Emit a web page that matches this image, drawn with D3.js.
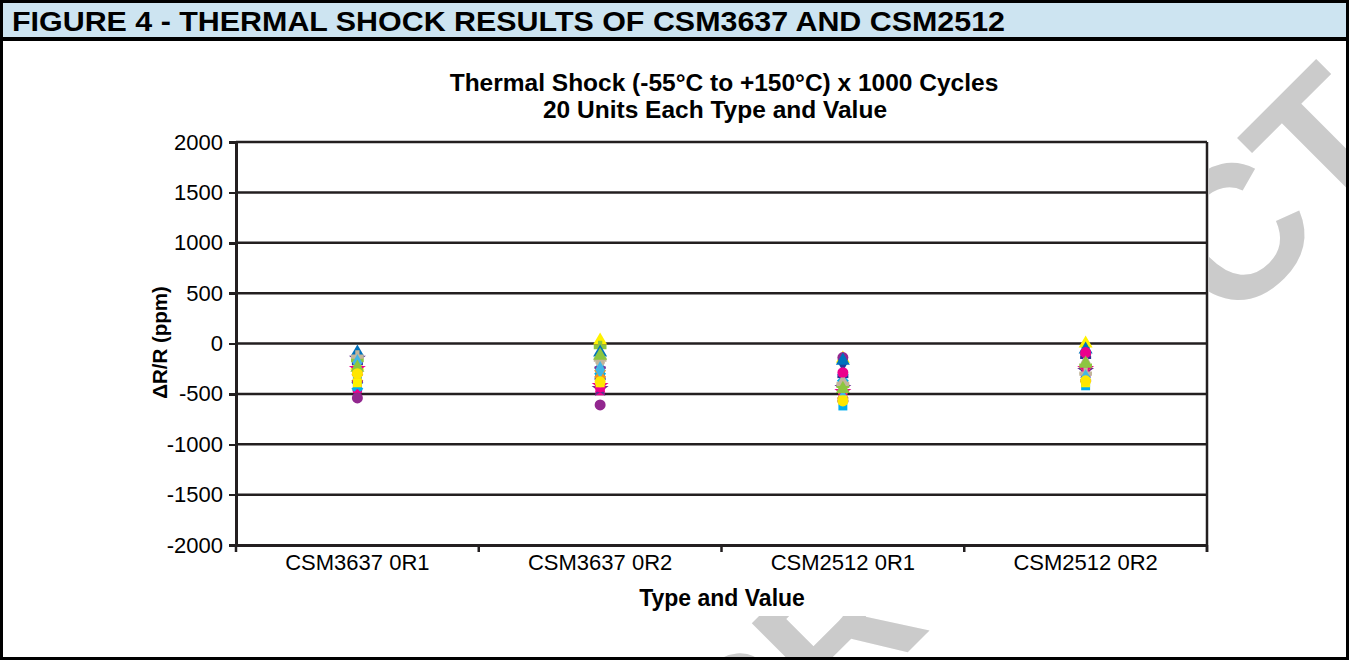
<!DOCTYPE html>
<html lang="en">
<head>
<meta charset="UTF-8">
<title>Figure 4 - Thermal Shock</title>
<style>
    body { margin: 0; background: #fff; }
    svg { font-family: "Liberation Sans", Arial, sans-serif; display: block; }
    .axis path, .axis line { stroke: #231f20; shape-rendering: crispEdges; }
    .axis text { fill: #000; font-size: 22px; }
</style>
</head>
<body>
<div id="chart"></div>
<script src="https://d3js.org/d3.v7.min.js"></script>
<script>

    // categories on the x axis
    var categories = ["CSM3637 0R1", "CSM3637 0R2", "CSM2512 0R1", "CSM2512 0R2"];

    // 20 units, each drawn as its own series (marker + colour)
    var unitShapes = ["diamond", "square", "triangle", "x", "star", "circle", "plus", "dash", "diamond", "square",
                      "triangle", "x", "star", "circle", "plus", "dash", "diamond", "square", "triangle", "circle"];
    var unitColors = ["#1f3d99", "#ec008c", "#fff200", "#00aeef", "#662d91", "#92278f", "#8dc63f", "#2e3192", "#c2b59b", "#00aeef",
                      "#0072bc", "#f7941d", "#ec008c", "#ec008c", "#c2b59b", "#92278f", "#41b6e6", "#fff200", "#8dc63f", "#ffe600"];

    // dR/R (ppm) per unit, one array per type and value
    var csm3637_0r1 = [-470, -450, -220, -420, -150, -540, -165, -200, -110, -320,
                       -90, -340, -250, -270, -130, -380, -190, -390, -240, -300];
    var csm3637_0r2 = [-320, -470, 30, -270, -450, -610, -35, -350, -190, -280,
                       -90, -300, -420, -430, -160, -240, -260, -390, -120, -380];
    var csm2512_0r1 = [-190, -490, -150, -340, -440, -140, -420, -330, -390, -620,
                       -170, -510, -480, -290, -400, -570, -540, -560, -450, -570];
    var csm2512_0r2 = [-25, -300, 0, -270, -270, -110, -220, -140, -190, -420,
                       -60, -270, -250, -90, -300, -370, -340, -390, -200, -370];
    var values = [csm3637_0r1, csm3637_0r2, csm2512_0r1, csm2512_0r2];

    var yTicks = [-2000, -1500, -1000, -500, 0, 500, 1000, 1500, 2000];

    var width = 1349, height = 660;
    var plot = {left: 236, right: 1207, top: 142, bottom: 545};

    var svg = d3.select("#chart").append("svg")
        .attr("width", width)
        .attr("height", height);

    // header bar
    svg.append("rect")
        .attr("x", 0).attr("y", 0)
        .attr("width", width).attr("height", 39)
        .attr("fill", "#cde4f1");
    svg.append("text")
        .attr("x", 12).attr("y", 31)
        .attr("font-size", 28)
        .attr("font-weight", 900)
        .attr("textLength", 993)
        .attr("lengthAdjust", "spacingAndGlyphs")
        .text("FIGURE 4 - THERMAL SHOCK RESULTS OF CSM3637 AND CSM2512");

    // watermark (mostly hidden behind the chart area)
    svg.append("text")
        .attr("transform", "translate(1410,150) rotate(-45)")
        .attr("text-anchor", "end")
        .attr("font-size", 190)
        .attr("font-weight", "bold")
        .attr("fill", "#cbcbcb")
        .text("OBSOLETE PRODUCT");

    // chart area
    svg.append("rect")
        .attr("x", 4).attr("y", 42)
        .attr("width", 1205).attr("height", 574)
        .attr("fill", "#fff");

    // frame
    svg.append("line")
        .attr("x1", 0).attr("x2", width)
        .attr("y1", 39).attr("y2", 39)
        .attr("stroke", "#000").attr("stroke-width", 4);
    svg.append("rect")
        .attr("x", 1.5).attr("y", 1.5)
        .attr("width", width - 3).attr("height", height - 3)
        .attr("fill", "none")
        .attr("stroke", "#000").attr("stroke-width", 3);

    // scales
    var x = d3.scaleBand()
        .domain(categories)
        .range([plot.left, plot.right]);

    var y = d3.scaleLinear()
        .domain([-2000, 2000])
        .range([plot.bottom, plot.top]);

    // gridlines
    svg.append("g")
        .selectAll("line")
        .data(yTicks.slice(1))
        .enter().append("line")
        .attr("x1", plot.left).attr("x2", plot.right)
        .attr("y1", function(d) { return y(d); })
        .attr("y2", function(d) { return y(d); })
        .attr("stroke", "#231f20")
        .attr("stroke-width", 2.5);

    // right border of plot
    svg.append("line")
        .attr("x1", plot.right).attr("x2", plot.right)
        .attr("y1", plot.top).attr("y2", plot.bottom + 7)
        .attr("stroke", "#231f20").attr("stroke-width", 2.5);

    // x axis: labels centered, ticks on category boundaries
    var xAxis = svg.append("g")
        .attr("class", "axis")
        .attr("transform", "translate(0," + plot.bottom + ")")
        .call(d3.axisBottom(x).tickSize(0).tickPadding(9));
    xAxis.select(".domain").attr("stroke-width", 3);
    xAxis.selectAll("text").attr("dy", "0.71em");

    var bounds = categories.map(function(c) { return x(c); }).concat([plot.right]);
    svg.append("g")
        .selectAll("line")
        .data(bounds)
        .enter().append("line")
        .attr("x1", function(d) { return d; })
        .attr("x2", function(d) { return d; })
        .attr("y1", plot.bottom)
        .attr("y2", plot.bottom + 7)
        .attr("stroke", "#231f20")
        .attr("stroke-width", 2.5);

    // y axis
    var yAxis = svg.append("g")
        .attr("class", "axis")
        .attr("transform", "translate(" + plot.left + ",0)")
        .call(d3.axisLeft(y).tickValues(yTicks).tickSize(7).tickSizeOuter(0).tickPadding(6)
            .tickFormat(function(d) { return String(d); }));
    yAxis.select(".domain").attr("stroke-width", 3);
    yAxis.selectAll(".tick line").attr("stroke-width", 2.5);

    // titles
    var title = svg.append("text")
        .attr("text-anchor", "middle")
        .attr("font-size", 24.5)
        .attr("font-weight", "bold");
    title.append("tspan").attr("x", 724).attr("y", 91)
        .text("Thermal Shock (-55°C to +150°C) x 1000 Cycles");
    title.append("tspan").attr("x", 715).attr("y", 118)
        .text("20 Units Each Type and Value");

    svg.append("text")
        .attr("x", 722)
        .attr("y", 606)
        .attr("text-anchor", "middle")
        .attr("font-size", 23)
        .attr("font-weight", "bold")
        .text("Type and Value");

    svg.append("text")
        .attr("transform", "translate(167," + (y(0) - 1) + ") rotate(-90)")
        .attr("text-anchor", "middle")
        .attr("font-size", 20.5)
        .attr("font-weight", "bold")
        .text("\u0394R/R (ppm)");

    // markers
    function markerPath(shape) {
        var s = d3.symbol();
        if (shape === "circle") return s.type(d3.symbolCircle).size(95)();
        if (shape === "square") return s.type(d3.symbolSquare).size(80)();
        if (shape === "triangle") return s.type(d3.symbolTriangle).size(85)();
        if (shape === "diamond") return s.type(d3.symbolDiamond).size(85)();
        if (shape === "star") return s.type(d3.symbolStar).size(90)();
        if (shape === "plus" || shape === "x") return s.type(d3.symbolCross).size(90)();
        return "M-5.5,-1.4h11v2.8h-11z"; // dash
    }

    var points = [];
    categories.forEach(function(c, ci) {
        values[ci].forEach(function(v, ui) {
            points.push({cat: c, value: v, shape: unitShapes[ui], color: unitColors[ui]});
        });
    });

    svg.append("g")
        .selectAll("path")
        .data(points)
        .enter().append("path")
        .attr("d", function(d) { return markerPath(d.shape); })
        .attr("transform", function(d) {
            return "translate(" + (x(d.cat) + x.bandwidth() / 2) + "," + y(d.value) + ")" +
                (d.shape === "x" ? " rotate(45)" : "");
        })
        .attr("fill", function(d) { return d.color; });

</script>
</body>
</html>
